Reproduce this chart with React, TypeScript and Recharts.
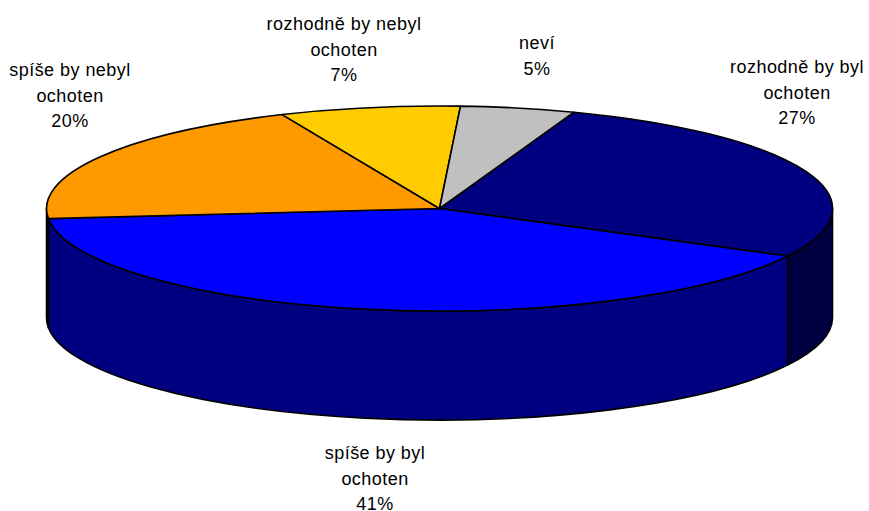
import { Pie, PieChart } from 'recharts';

const categories = ['rozhodně by byl ochoten', 'spíše by byl ochoten', 'spíše by nebyl ochoten', 'rozhodně by nebyl ochoten', 'neví'];
const shares = [27.1, 40.7, 20, 7.4, 4.7];
const topColors = ['#000080', '#0000FF', '#FF9900', '#FFCC00', '#C0C0C0'];
const wallColors = ['#000040', '#000080', '#000000', '#7F6600', '#606060'];
const labelLines = [['rozhodně by byl', 'ochoten'], ['spíše by byl', 'ochoten'], ['spíše by nebyl', 'ochoten'], ['rozhodně by nebyl', 'ochoten'], ['neví']];

const WIDTH = 869;
const HEIGHT = 511;
const CX = 439.5;
const CY = 208.5;
const RX = 393;
const RY = 102.5;
const DEPTH = 109;
const FIRST_ANGLE = 70;

// label centre x and first baseline y, same order as categories
const labelAnchors = [
  [797, 73],
  [375, 459],
  [70, 76],
  [344, 30],
  [537, 49],
];

const data = categories.map((name, i) => ({ name, value: shares[i], fill: topColors[i], wall: wallColors[i] }));

const pt = (angle: number, dy = 0) => {
  const rad = (angle * Math.PI) / 180;
  return `${CX + RX * Math.cos(rad)} ${CY - RY * Math.sin(rad) + dy}`;
};

// squashed sector: the pie is laid flat by using RY for the vertical radius
const TopSlice = (props: any) => {
  const { startAngle, endAngle, fill } = props;
  const large = startAngle - endAngle > 180 ? 1 : 0;
  return (
    <path
      d={`M ${CX} ${CY} L ${pt(startAngle)} A ${RX} ${RY} 0 ${large} 1 ${pt(endAngle)} Z`}
      fill={fill}
      stroke="#000"
      strokeWidth={1.6}
      strokeLinejoin="round"
    />
  );
};

// rim of the slice, only the part that faces the viewer
const WallSlice = (props: any) => {
  const { startAngle, endAngle, wall } = props;
  const a = Math.min(startAngle, 0);
  const b = Math.max(endAngle, -180);
  if (a <= b) return <g />;
  return (
    <path
      d={`M ${pt(a)} A ${RX} ${RY} 0 0 1 ${pt(b)} L ${pt(b, DEPTH)} A ${RX} ${RY} 0 0 0 ${pt(a, DEPTH)} Z`}
      fill={wall}
      stroke="#000"
      strokeWidth={1.6}
      strokeLinejoin="round"
    />
  );
};

const renderLabel = (props: any) => {
  const { index, percent } = props;
  const [x, y] = labelAnchors[index];
  const lines = [...labelLines[index], `${Math.round(percent * 100)}%`];
  return (
    <text x={x} y={y} textAnchor="middle" fontFamily="'Liberation Sans', Arial, sans-serif" fontSize={18} letterSpacing={0.45} fill="#000">
      {lines.map((line, i) => (
        <tspan key={line} x={x} dy={i === 0 ? 0 : 25.5}>
          {line}
        </tspan>
      ))}
    </text>
  );
};

export default function App() {
  return (
    <div style={{ position: 'absolute', left: 0, top: 0, width: WIDTH, height: HEIGHT, background: '#fff' }}>
      <PieChart width={WIDTH} height={HEIGHT} margin={{ top: 0, right: 0, bottom: 0, left: 0 }}>
        <Pie
          data={data}
          dataKey="value"
          nameKey="name"
          cx={CX}
          cy={CY}
          innerRadius={0}
          outerRadius={RX}
          startAngle={FIRST_ANGLE}
          endAngle={FIRST_ANGLE - 360}
          paddingAngle={0}
          shape={WallSlice}
          label={false}
          labelLine={false}
          isAnimationActive={false}
        />
        <Pie
          data={data}
          dataKey="value"
          nameKey="name"
          cx={CX}
          cy={CY}
          innerRadius={0}
          outerRadius={RX}
          startAngle={FIRST_ANGLE}
          endAngle={FIRST_ANGLE - 360}
          paddingAngle={0}
          shape={TopSlice}
          label={renderLabel}
          labelLine={false}
          isAnimationActive={false}
        />
      </PieChart>
    </div>
  );
}
